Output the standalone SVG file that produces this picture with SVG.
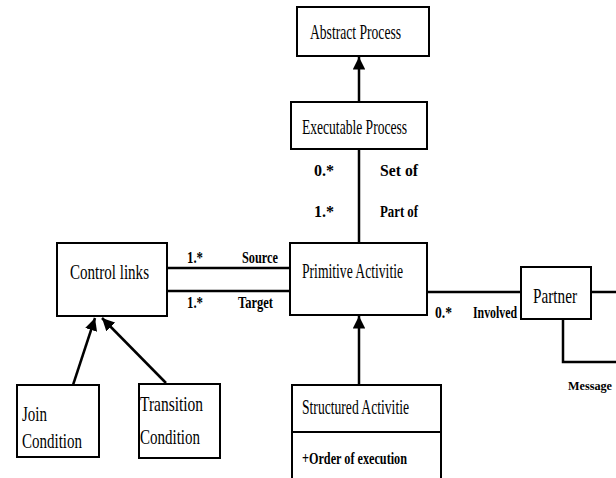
<svg xmlns="http://www.w3.org/2000/svg" width="616" height="478" viewBox="0 0 616 478">
<style>
.box{fill:#fff;stroke:#000;stroke-width:2}
.ln{stroke:#000;stroke-width:2.5;fill:none}
</style>
<defs>
<marker id="ah" viewBox="0 0 10 10" refX="10" refY="5" markerWidth="5" markerHeight="5" orient="auto" markerUnits="strokeWidth">
<path d="M0,0 L10,5 L0,10 z" fill="#000"/>
</marker>
</defs>
<rect width="616" height="478" fill="#fff"/>
<g id="connectors">
<line class="ln" x1="359" y1="102" x2="359" y2="57" marker-end="url(#ah)"/>
<line class="ln" x1="359" y1="149" x2="359" y2="243"/>
<line class="ln" x1="167" y1="268" x2="290" y2="268"/>
<line class="ln" x1="167" y1="291" x2="290" y2="291"/>
<line class="ln" x1="427" y1="292" x2="521" y2="292"/>
<line class="ln" x1="591" y1="292" x2="616" y2="292"/>
<polyline class="ln" points="563,319 563,362 616,362"/>
<line class="ln" x1="359" y1="385" x2="359" y2="316" marker-end="url(#ah)"/>
<line class="ln" x1="73" y1="385" x2="95" y2="318" marker-end="url(#ah)"/>
<line class="ln" x1="166" y1="383" x2="102" y2="318" marker-end="url(#ah)"/>
<g font-family="Liberation Serif, DejaVu Serif, serif" font-size="16" font-weight="bold" fill="#000">
<text x="314" y="176" textLength="20" lengthAdjust="spacingAndGlyphs">0.*</text>
<text x="380" y="176" textLength="38" lengthAdjust="spacingAndGlyphs">Set of</text>
<text x="314" y="217" textLength="20" lengthAdjust="spacingAndGlyphs">1.*</text>
<text x="380" y="217" textLength="38" lengthAdjust="spacingAndGlyphs">Part of</text>
<text x="187" y="263" textLength="16" lengthAdjust="spacingAndGlyphs">1.*</text>
<text x="242" y="263" textLength="36" lengthAdjust="spacingAndGlyphs">Source</text>
<text x="187" y="308" textLength="16" lengthAdjust="spacingAndGlyphs">1.*</text>
<text x="238" y="308" textLength="35" lengthAdjust="spacingAndGlyphs">Target</text>
<text x="435" y="318" textLength="17" lengthAdjust="spacingAndGlyphs">0.*</text>
<text x="473" y="318" textLength="44" lengthAdjust="spacingAndGlyphs">Involved</text>
<text x="568" y="390" font-size="12" textLength="44" lengthAdjust="spacingAndGlyphs">Message</text>
</g>
</g>
<g font-family="Liberation Serif, DejaVu Serif, serif" font-size="22" fill="#000">
<g id="abstract-process">
<rect class="box" x="297" y="7" width="132" height="49"/>
<text x="310" y="39" textLength="91" lengthAdjust="spacingAndGlyphs">Abstract Process</text>
</g>
<g id="executable-process">
<rect class="box" x="291" y="102" width="136" height="47"/>
<text x="302" y="134" textLength="105" lengthAdjust="spacingAndGlyphs">Executable Process</text>
</g>
<g id="primitive-activitie">
<rect class="box" x="290" y="243" width="137" height="72"/>
<text x="302" y="278" textLength="101" lengthAdjust="spacingAndGlyphs">Primitive Activitie</text>
</g>
<g id="control-links">
<rect class="box" x="57" y="243" width="110" height="73"/>
<text x="70" y="279" textLength="79" lengthAdjust="spacingAndGlyphs">Control links</text>
</g>
<g id="partner">
<rect class="box" x="521" y="267" width="70" height="52"/>
<text x="533" y="303" textLength="44" lengthAdjust="spacingAndGlyphs">Partner</text>
</g>
<g id="structured-activitie">
<rect class="box" x="292" y="385" width="149" height="100"/>
<line stroke="#000" stroke-width="2" x1="292" y1="432" x2="441" y2="432"/>
<text x="302" y="414" textLength="107" lengthAdjust="spacingAndGlyphs">Structured Activitie</text>
<text x="302" y="464" font-size="16" font-weight="bold" textLength="105" lengthAdjust="spacingAndGlyphs">+Order of execution</text>
</g>
<g id="join-condition">
<rect class="box" x="17" y="385" width="82" height="72"/>
<text x="22" y="421" textLength="25" lengthAdjust="spacingAndGlyphs">Join</text>
<text x="22" y="448" textLength="60" lengthAdjust="spacingAndGlyphs">Condition</text>
</g>
<g id="transition-condition">
<rect class="box" x="139" y="384" width="81" height="74"/>
<text x="140" y="411" textLength="63" lengthAdjust="spacingAndGlyphs">Transition</text>
<text x="140" y="444" textLength="60" lengthAdjust="spacingAndGlyphs">Condition</text>
</g>
</g>
</svg>
